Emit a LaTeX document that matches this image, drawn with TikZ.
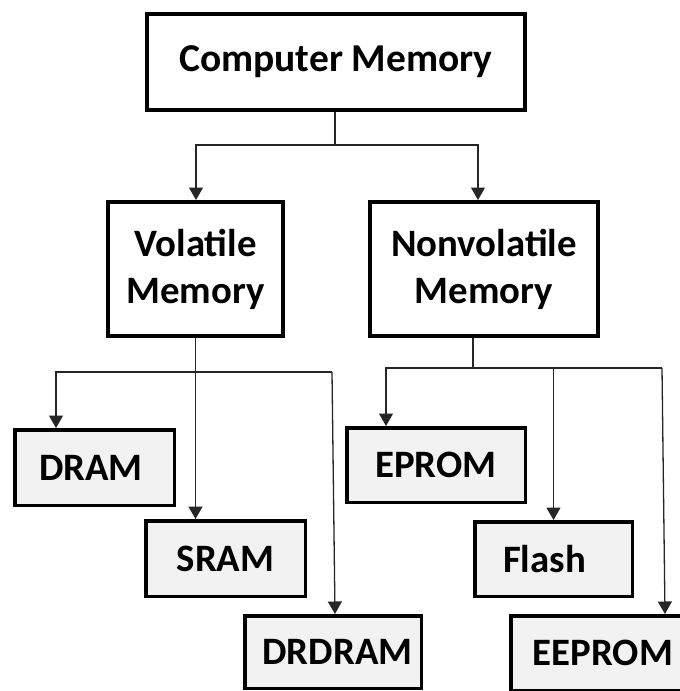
\documentclass[tikz,border=0pt]{standalone}
\usepackage{fontspec}
\setmainfont{Carlito}
\usetikzlibrary{arrows.meta}
\definecolor{leaffill}{HTML}{F2F2F2}
\definecolor{conncol}{HTML}{262626}
\begin{document}
\begin{tikzpicture}[x=1pt,y=-1pt,
  upperbox/.style={draw=black,line width=4pt,fill=white,inner sep=0pt,
    font=\bfseries\fontsize{38.8}{47}\selectfont,align=center},
  leafbox/.style={draw=black,line width=3.5pt,fill=leaffill,inner sep=0pt,
    font=\bfseries\fontsize{38.8}{47}\selectfont},
  conn/.style={draw=conncol,line width=1.3pt},
  arr/.style={conn,-{Triangle[width=14pt,length=12.5pt]}}]
\useasboundingbox (0,0) rectangle (680,691);
\clip (0,0) rectangle (680,691);
% boxes
\node[upperbox,minimum width=378pt,minimum height=96pt,font=\bfseries\fontsize{39.5}{47}\selectfont] (top) at (336,62) {Computer Memory};
\node[upperbox,minimum width=175pt,minimum height=134pt] (vol) at (195.5,269) {Volatile\\Memory};
\node[upperbox,minimum width=228pt,minimum height=134pt] (nonvol) at (484,269) {Nonvolatile\\Memory};
\node[leafbox,minimum width=159.5pt,minimum height=75.5pt] (dram) at (94.5,467.5) {DRAM\kern7pt};
\node[leafbox,minimum width=159.5pt,minimum height=75.5pt] (sram) at (225.5,558.5) {SRAM};
\node[leafbox,minimum width=176.5pt,minimum height=72.5pt] (drdram) at (333,652) {\kern9pt DRDRAM};
\node[leafbox,minimum width=178.5pt,minimum height=74.5pt] (eprom) at (436,465) {EPROM};
\node[leafbox,minimum width=157.5pt,minimum height=74.5pt] (flash) at (553.5,559) {Flash\kern18pt};
\node[leafbox,minimum width=177.5pt,minimum height=74.5pt] (eeprom) at (599.5,653) {\kern7pt EEPROM};
% bus coordinates
\coordinate (topbus) at (335,145);
\coordinate (volbus) at (195.5,372);
\coordinate (volR) at (332,372);
\coordinate (nvbus) at (473,368);
\coordinate (nvR) at (662,368);
% connectors from top
\draw[conn] (top.south -| topbus) -- (topbus);
\draw[arr] (topbus) -| ([xshift=0.5pt]vol.north);
\draw[arr] (topbus) -| ([xshift=-6pt]nonvol.north);
% volatile children
\draw[arr] (vol.south) -- (volbus) -| ([xshift=-38.5pt]dram.north);
\draw[arr] (volbus) -- ([xshift=-30pt]sram.north);
\draw[conn] (volbus) -- (volR);
\draw[arr] (volR) -- ([xshift=2pt]drdram.north);
% nonvolatile children
\draw[conn] (nonvol.south -| nvbus) -- (nvbus);
\draw[arr] (nvbus) -| ([xshift=-50pt]eprom.north);
\draw[conn] (nvbus) -- (nvR);
\draw[arr] (nvbus -| flash.north) -- (flash.north);
\draw[arr] (nvR) -- ([xshift=65.5pt]eeprom.north);
\end{tikzpicture}
\end{document}
